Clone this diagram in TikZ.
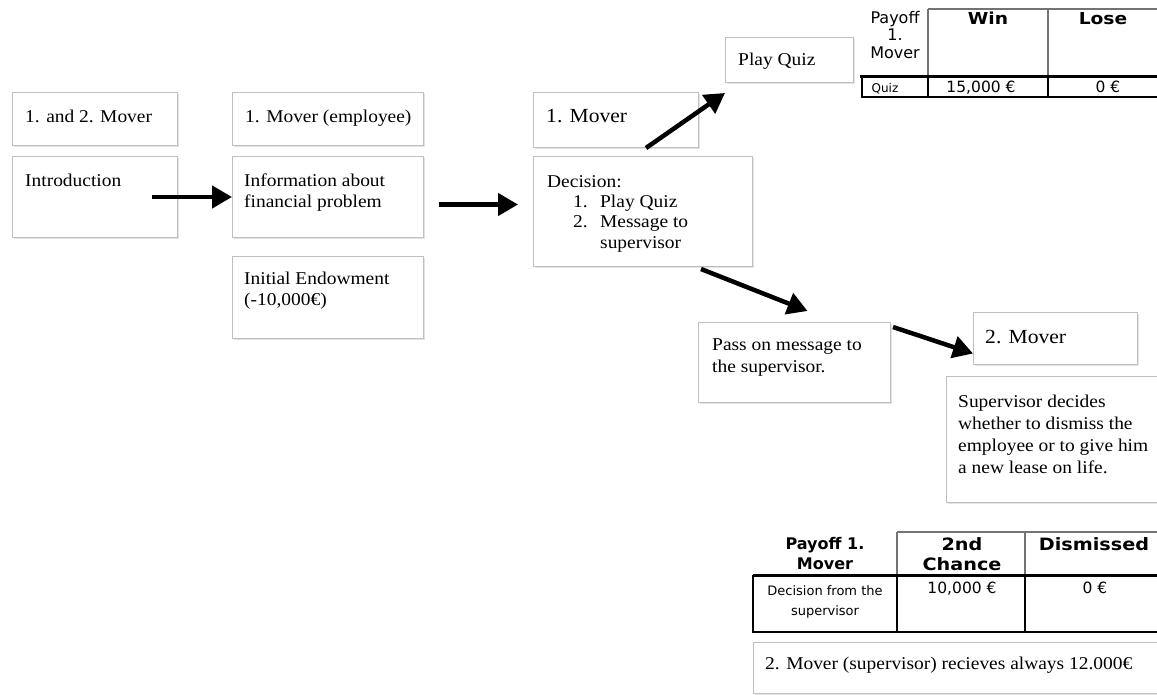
\documentclass[tikz,border=0pt]{standalone}
\usepackage{fontspec}
\setmainfont{Liberation Serif}
\newfontfamily\bxfont[FakeStretch=1.08]{Liberation Serif}
\newfontfamily\tbfont{DejaVu Sans}
\newfontfamily\tbwide[FakeStretch=1.13]{DejaVu Sans}
\usetikzlibrary{arrows.meta,shadows}
\begin{document}
\begin{tikzpicture}[x=1pt,y=-1pt,
  box/.style={draw=black!25, line width=1pt, fill=white, anchor=north west, inner sep=0pt,
    drop shadow={shadow xshift=1.5pt,shadow yshift=-1.8pt,opacity=0.22}},
  btxt/.style={anchor=north west, inner sep=0pt, align=left, font=\bxfont\fontsize{18}{21}\selectfont},
  bigtxt/.style={anchor=base west, inner sep=0pt, font=\bxfont\fontsize{20}{24}\selectfont},
  arr/.style={line width=4.5pt, -{Triangle[length=20pt,width=22pt]}},
  tline/.style={line width=1.1pt, black},
  hline/.style={line width=1.1pt, black!55},
  thick rule/.style={line width=3pt, black},
  tnum/.style={anchor=base, inner sep=0pt, font=\tbfont\fontsize{15.5}{17.5}\selectfont},
  thead/.style={anchor=base, inner sep=0pt, font=\tbwide\bfseries\fontsize{16.5}{20}\selectfont},
]
\useasboundingbox (0,0) rectangle (1157,695);
\fill[white] (0,0) rectangle (1157,695);
\clip (0,0) rectangle (1157,695);

% ---------- boxes ----------
\node[box, minimum width=165pt, minimum height=53pt] (both) at (12,92) {};
\node[box, minimum width=165pt, minimum height=81pt] (intro) at (12,156) {};
\node[box, minimum width=191pt, minimum height=53pt] (emp) at (232,92) {};
\node[box, minimum width=191pt, minimum height=81pt] (info) at (232,156) {};
\node[box, minimum width=191pt, minimum height=82pt] (endow) at (232,256) {};
\node[box, minimum width=165pt, minimum height=55pt] (m1) at (533,92) {};
\node[box, minimum width=219pt, minimum height=110pt] (dec) at (533,156) {};
\node[box, minimum width=128pt, minimum height=45pt] (pq) at (725,37) {};
\node[box, minimum width=192pt, minimum height=80pt] (pass) at (698,322) {};
\node[box, minimum width=164pt, minimum height=52pt] (m2) at (973,312) {};
\node[box, minimum width=225pt, minimum height=126pt] (sup) at (946,376) {};
\node[box, minimum width=425pt, minimum height=51pt] (bot) at (753,642) {};

% ---------- box texts ----------
\node[btxt] (both-t) at (25,107.3) {\strut 1. and 2. Mover};
\node[btxt] (intro-t) at (25,171.3) {\strut Introduction};
\node[btxt] (emp-t) at (245,107.3) {\strut 1. Mover (employee)};
\node[btxt] (info-t) at (244,171.3) {\strut Information about\\financial problem};
\node[btxt] (endow-t) at (244,269.3) {\strut Initial Endowment\\(-10,000€)};
\node[bigtxt] (m1-t) at (546,123) {1. Mover};
\node[btxt, font=\bxfont\fontsize{18}{20.3}\selectfont] (dec-t) at (547,172.8)
  {\strut Decision:\\
   \hspace*{26pt}\makebox[27pt][l]{1.}Play Quiz\\
   \hspace*{26pt}\makebox[27pt][l]{2.}Message to\\
   \hspace*{53pt}supervisor};
\node[btxt] (pq-t) at (738,50.3) {\strut Play Quiz};
\node[btxt, font=\bxfont\fontsize{18}{22}\selectfont] (pass-t) at (712,334.6) {\strut Pass on message to\\the supervisor.};
\node[bigtxt] (m2-t) at (985,343) {2. Mover};
\node[btxt, font=\bxfont\fontsize{18}{22}\selectfont] (sup-t) at (958,391.6)
  {\strut Supervisor decides\\whether to dismiss the\\employee or to give him\\a new lease on life.};
\node[btxt] (bot-t) at (765,654.3) {\strut 2. Mover (supervisor) recieves always 12.000€};

% ---------- arrows ----------
\draw[arr] ([xshift=-26pt]intro.east) -- (info.west);
\draw[arr] ([xshift=15pt,yshift=-7.5pt]info.east) -- ([xshift=-15pt,yshift=7pt]dec.west);
\draw[arr] ([xshift=30pt]m1.south) -- ([yshift=-10pt]pq.south west);
\draw[arr] ([xshift=-52pt,yshift=-2pt]dec.south east) -- ([xshift=13pt,yshift=11pt]pass.north);
\draw[arr] ([xshift=2pt,yshift=-5pt]pass.north east) -- ([yshift=-15pt]m2.west);

% ---------- table 1 ----------
\draw[hline] (928,9) -- (1160,9);
\draw[hline] (928,9) -- (928,77);
\draw[hline] (1048,9) -- (1048,77);
\draw[tline] (928,77) -- (928,97);
\draw[tline] (1048,77) -- (1048,97);
\draw[tline] (862,77) -- (862,97) -- (1160,97);
\draw[thick rule] (860,77) -- (1160,77);
\node[anchor=north, inner sep=0pt, align=center, font=\tbfont\fontsize{16}{17.5}\selectfont] (t1h1) at (895,10.75) {\strut Payoff\\1.\\Mover};
\node[thead] (t1h2) at (988,25) {Win};
\node[thead] (t1h3) at (1103,25) {Lose};
\node[anchor=base, inner sep=0pt, font=\tbfont\fontsize{12}{14}\selectfont] (t1r1) at (885,93) {Quiz};
\node[tnum] (t1r2) at (981,93) {15,000 €};
\node[tnum] (t1r3) at (1108,93) {0 €};

% ---------- table 2 ----------
\draw[hline] (897,532) -- (1160,532);
\draw[hline] (897,532) -- (897,575);
\draw[hline] (1025,532) -- (1025,575);
\draw[tline] (897,575) -- (897,632);
\draw[tline] (1025,575) -- (1025,632);
\draw[tline] (753,575) -- (753,632) -- (1160,632);
\draw[thick rule] (753,575) -- (1160,575);
\node[anchor=north, inner sep=0pt, align=center, font=\tbfont\bfseries\fontsize{16}{20}\selectfont] (t2h1) at (825,535) {\strut Payoff 1.\\Mover};
\node[anchor=north, inner sep=0pt, align=center, font=\tbwide\bfseries\fontsize{17}{20}\selectfont] (t2h2) at (962,536) {\strut 2nd\\Chance};
\node[thead, font=\tbwide\bfseries\fontsize{17}{20}\selectfont] (t2h3) at (1094,550) {Dismissed};
\node[anchor=north, inner sep=0pt, align=center, font=\tbfont\fontsize{13}{20}\selectfont] (t2r1) at (825,581) {\strut Decision from the\\supervisor};
\node[tnum] (t2r2) at (962,593) {10,000 €};
\node[tnum] (t2r3) at (1095,593) {0 €};
\end{tikzpicture}
\end{document}
